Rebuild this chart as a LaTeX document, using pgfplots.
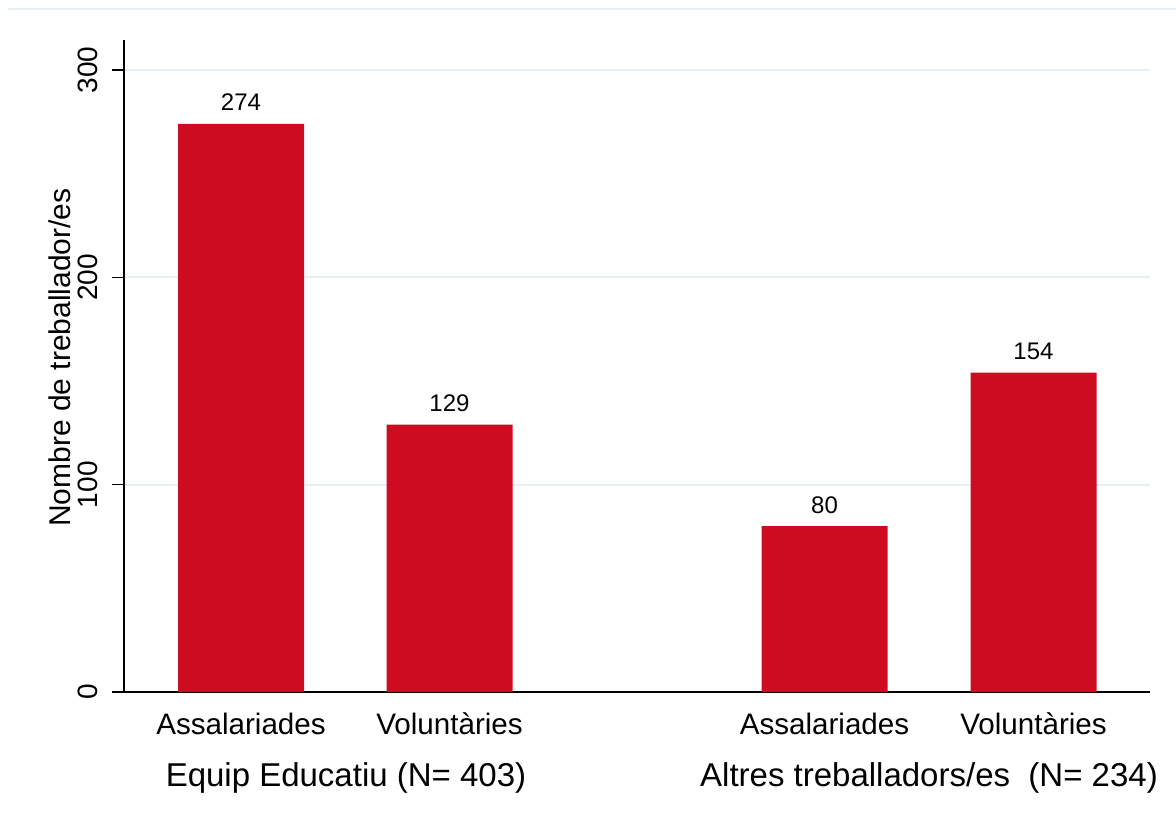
\documentclass[border=0pt]{standalone}
\usepackage{pgfplots}
\pgfplotsset{compat=1.18}
\usepackage{fontspec}
\setmainfont{Liberation Sans}
\definecolor{barRed}{HTML}{CD0C22}
\definecolor{gridBlue}{HTML}{E6F0F4}

\begin{document}
\begin{tikzpicture}
  % frame of the whole picture: 1 px of the reference = 0.5pt
  \useasboundingbox (-62pt,-62pt) rectangle (526pt,346pt);
  \draw[gridBlue, line width=0.8pt] (-58pt,341.5pt) -- (526pt,341.5pt);
  \begin{axis}[
    at={(0,0)},
    anchor=south west,
    scale only axis,
    width=513pt,
    height=326pt,
    xmin=124, xmax=1150,
    ymin=0, ymax=314.5,
    axis x line*=bottom,
    axis y line*=left,
    ybar,
    bar width=63pt,
    bar shift=0pt,
    /pgf/number format/assume math mode=true,
    xtick={241,449.5,824.5,1033.5},
    xticklabels={Assalariades,Voluntàries,Assalariades,Voluntàries},
    xtick style={draw=none},
    ytick={0,100,200,300},
    ytick style={draw=black, line width=0.7pt},
    tick align=outside,
    major tick length=6pt,
    axis line style={draw=black, line width=0.8pt, -},
    ymajorgrids,
    major grid style={draw=gridBlue, line width=1pt},
    xticklabel style={font=\fontsize{14.8}{16}\selectfont, anchor=base, yshift=-15pt},
    yticklabel style={font=\fontsize{14}{16}\selectfont, rotate=90, anchor=center, yshift=12pt},
    ylabel={Nombre de treballador/es},
    ylabel style={font=\fontsize{15}{17}\selectfont, at={(axis description cs:-0.0624,0.513)}, anchor=center, rotate=0},
    nodes near coords,
    every node near coord/.append style={font=\fontsize{12}{14}\selectfont, anchor=base, inner sep=0pt, yshift=6.5pt},
    clip=false,
  ]
    \addplot[fill=barRed, draw=none] coordinates {(241,274) (449.5,129) (824.5,80) (1033.5,154)};
    \node[font=\fontsize{16.5}{18}\selectfont, anchor=base] at (axis cs:346,0) [yshift=-47pt] {Equip Educatiu (N= 403)};
    \node[font=\fontsize{16.5}{18}\selectfont, anchor=base] at (axis cs:929,0) [yshift=-47pt] {Altres treballadors/es\ \ (N= 234)};
  \end{axis}
\end{tikzpicture}
\end{document}
